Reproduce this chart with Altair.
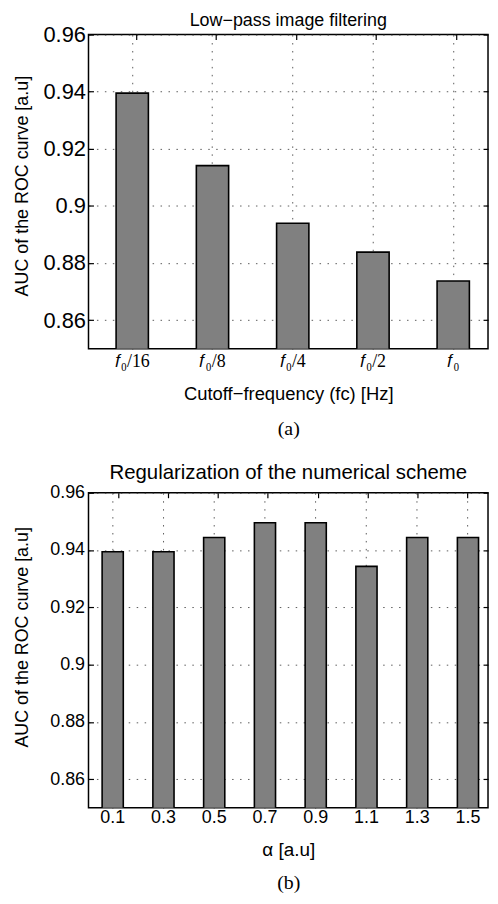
import altair as alt
import pandas as pd

# ---- data ----
cutoff_labels = ["𝑓₀/16", "𝑓₀/8", "𝑓₀/4", "𝑓₀/2", "𝑓₀"]
auc_cutoff = [0.9395, 0.9141, 0.8939, 0.8838, 0.8737]

alpha_labels = ["0.1", "0.3", "0.5", "0.7", "0.9", "1.1", "1.3", "1.5"]
auc_alpha = [0.9394, 0.9394, 0.9444, 0.9495, 0.9495, 0.9343, 0.9444, 0.9444]

y_ticks = [0.86, 0.88, 0.90, 0.92, 0.94, 0.96]
y_domain = [0.85, 0.96]

df_a = pd.DataFrame({"cat": cutoff_labels, "auc": auc_cutoff})
df_b = pd.DataFrame({"cat": alpha_labels, "auc": auc_alpha})

SANS = "Liberation Sans"
SERIF = "Liberation Serif"
GRID = dict(grid=True, gridDash=[1.5, 6.5], gridColor="#333333", gridWidth=0.8, gridOpacity=1)
TICKS = dict(domain=False, ticks=True, tickSize=5, offset=-5, tickColor="black", tickWidth=1.2)


def panel(df, labels, w, h, title, title_size, ylab_size, ylab_pad, ytitle_y, xlab_font, xlab_size,
          xlab_pad, xtitle, xtitle_size, pad_inner, pad_outer, band_align, title_offset, xtitle_pad,
          caption, caption_offset):
    xscale = alt.Scale(domain=labels, paddingInner=pad_inner, paddingOuter=pad_outer, align=band_align)
    yscale = alt.Scale(domain=y_domain, zero=False, nice=False)
    bars = alt.Chart(df).mark_bar(fill="#808080", stroke="black", strokeWidth=1.6, clip=True).encode(
        x=alt.X("cat:N", sort=labels, scale=xscale,
                axis=alt.Axis(orient="bottom", bandPosition=0.5, labelAngle=0, labelFont=xlab_font,
                              labelFontSize=xlab_size, labelColor="black", labelPadding=xlab_pad,
                              title=xtitle, titleFont=SANS, titleFontSize=xtitle_size,
                              titleFontWeight="normal", titleColor="black", titlePadding=xtitle_pad,
                              **GRID, **TICKS)),
        y=alt.Y("auc:Q", scale=yscale,
                axis=alt.Axis(orient="left", values=y_ticks, format="~g", labelFont=SANS,
                              labelFontSize=ylab_size, labelColor="black", labelPadding=ylab_pad,
                              title="AUC of the ROC curve [a.u]", titleFont=SANS, titleFontSize=18,
                              titleFontWeight="normal", titleColor="black",
                              titleX=-62, titleY=ytitle_y, **GRID, **TICKS)),
    )
    mirror = alt.Chart(df).mark_point(opacity=0, size=1).encode(
        x=alt.X("cat:N", sort=labels, scale=xscale,
                axis=alt.Axis(orient="top", bandPosition=0.5, labels=False, title=None, grid=False, **TICKS)),
        y=alt.Y("auc:Q", scale=yscale,
                axis=alt.Axis(orient="right", values=y_ticks, labels=False, title=None, grid=False, **TICKS)),
    )
    cap = alt.Chart(df).mark_point(opacity=0, size=1).encode(
        x=alt.X("cat:N", sort=labels, scale=xscale,
                axis=alt.Axis(orient="bottom", labels=False, ticks=False, domain=False, grid=False,
                              offset=caption_offset, title=caption, titleFont=SERIF, titleFontSize=20,
                              titleFontWeight="normal", titleColor="black", titlePadding=0)),
    )
    return alt.layer(bars, mirror, cap).resolve_scale(x="independent", y="independent").properties(
        width=w, height=h,
        title=alt.Title(title, font=SANS, fontSize=title_size, fontWeight="normal", color="black",
                        anchor="middle", frame="group", offset=title_offset),
    )


chart_a = panel(df_a, cutoff_labels, 402, 316, "Low−pass image filtering", 18, 22, 3, 152, SERIF, 18, 4,
                "Cutoff−frequency (fᴄ) [Hz]", 18.5, 0.5975, 0.288, 0.597, -6, 14, "(a)", 70)
chart_b = panel(df_b, alpha_labels, 402, 317, "Regularization of the numerical scheme", 20.5, 18, 4, 145,
                SANS, 18, 1, "α [a.u]", 19, 0.583, 0.2275, 0.59, 0, 14, "(b)", 65)

chart = alt.vconcat(chart_a, chart_b, spacing=23).properties(
    padding={"left": 5, "top": 0, "right": 0, "bottom": 0}
).configure_view(stroke="black", strokeWidth=1.5)

chart.save("out.html", embed_options={"renderer": "svg", "actions": False})
